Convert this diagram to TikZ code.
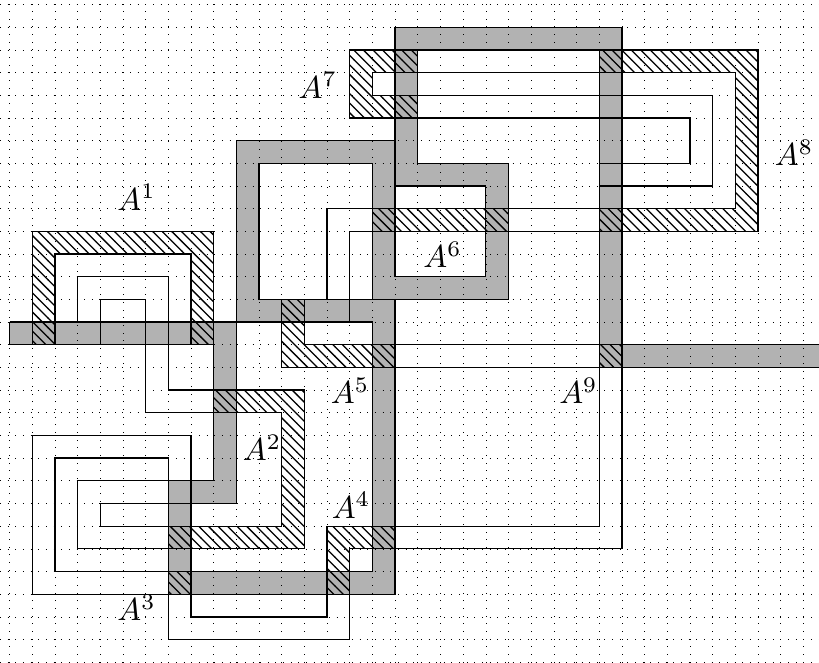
\documentclass[tikz,border=0pt]{standalone}
\usepackage{amsmath, amssymb}
\usetikzlibrary{patterns}

\tikzset{
  grayband/.style={double=black!30, double distance=0.25cm-0.4pt, line width=0.4pt},
  hatched/.style={draw, pattern=north west lines},
}

\begin{document}
\begin{tikzpicture}[scale=0.25]
\useasboundingbox (-0.423,0) rectangle (35.69,29.2);
% the long gray strip
\draw[grayband] (0,14.5) -- (9.5,14.5) -- (9.5,7.5) -- (7.5,7.5) -- (7.5,3.5) -- (16.5,3.5)
  -- (16.5,15.5) -- (10.5,15.5) -- (10.5,22.5) -- (16.5,22.5) -- (16.5,16.5) -- (21.5,16.5)
  -- (21.5,21.5) -- (17.5,21.5) -- (17.5,27.5) -- (26.5,27.5) -- (26.5,13.5) -- (35.69,13.5);
\draw (0,14) -- (0,15);
\draw[very thin, dash pattern=on 0.2pt off 2.2pt] (-0.423,0) grid (35.69,29.2);
% hatched pieces
\draw[hatched] (1,14) -- (1,19) -- (9,19) -- (9,14) -- (8,14) -- (8,18) -- (2,18) -- (2,14) -- cycle;
\draw[hatched] (9,12) -- (13,12) -- (13,5) -- (7,5) -- (7,6) -- (12,6) -- (12,11) -- (9,11) -- cycle;
\draw[hatched] (7,3) rectangle (8,4);
\draw[hatched] (14,3) -- (14,6) -- (17,6) -- (17,5) -- (15,5) -- (15,3) -- cycle;
\draw[hatched] (12,16) -- (13,16) -- (13,14) -- (17,14) -- (17,13) -- (12,13) -- cycle;
\draw[hatched] (16,19) rectangle (22,20);
\draw[hatched] (18,27) -- (15,27) -- (15,24) -- (18,24) -- (18,25) -- (16,25) -- (16,26) -- (18,26) -- cycle;
\draw[hatched] (26,27) -- (33,27) -- (33,19) -- (26,19) -- (26,20) -- (32,20) -- (32,26) -- (26,26) -- cycle;
\draw[hatched] (26,13) rectangle (27,14);
% thin lines
\draw (2,15) -- (3,15) -- (3,17) -- (7,17) -- (7,12) -- (9,12);
\draw (2,14) -- (4,14) -- (4,16) -- (6,16) -- (6,11) -- (9,11);
\draw (9,14) -- (9,8) -- (3,8) -- (3,5) -- (7,5);
\draw (10,15) -- (10,7) -- (4,7) -- (4,6) -- (7,6);
\draw (10,15) -- (16,15) -- (16,4) -- (2,4) -- (2,9) -- (7,9) -- (7,6);
\draw (7,3) -- (1,3) -- (1,10) -- (8,10) -- (8,6);
\draw (7,3) -- (7,1) -- (15,1) -- (15,3);
\draw (8,3) -- (8,2) -- (14,2) -- (14,3);
\draw (17,6) -- (26,6) -- (26,13);
\draw (17,5) -- (27,5) -- (27,13);
\draw (17,14) -- (26,14);
\draw (17,13) -- (26,13);
\draw (14,16) -- (14,20) -- (16,20);
\draw (15,15) -- (15,19) -- (16,19);
\draw (22,20) -- (26,20);
\draw (22,19) -- (26,19);
\draw (18,27) -- (26,27);
\draw (18,26) -- (26,26);
\draw (18,25) -- (31,25) -- (31,21) -- (26,21);
\draw (18,24) -- (30,24) -- (30,22) -- (26,22);
% labels
\node (A1) at (5.6,20.5) {$A^1$};
\node (A2) at (11.13,9.45) {$A^2$};
\node (A3) at (5.6,2.4) {$A^3$};
\node (A4) at (15.05,6.93) {$A^4$};
\node (A5) at (15.01,11.96) {$A^5$};
\node (A6) at (19.09,17.96) {$A^6$};
\node (A7) at (13.59,25.45) {$A^7$};
\node (A8) at (34.59,22.46) {$A^8$};
\node (A9) at (25.08,11.96) {$A^9$};
\end{tikzpicture}
\end{document}
